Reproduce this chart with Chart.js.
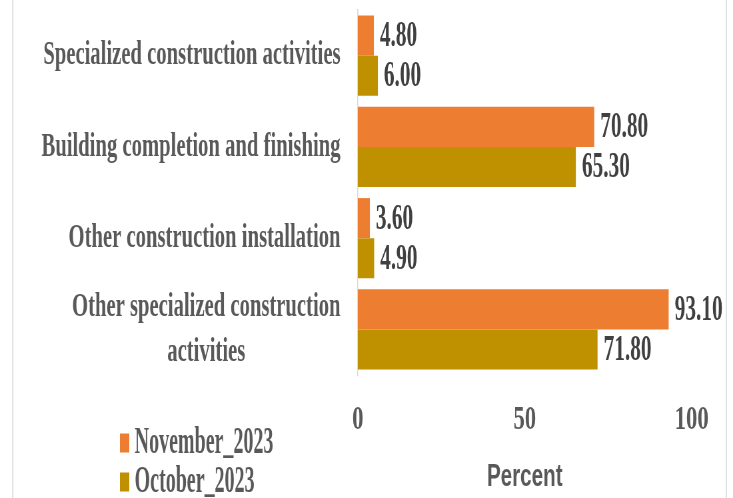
<!DOCTYPE html>
<html>
<head>
<meta charset="utf-8">
<script src="https://cdn.jsdelivr.net/npm/chart.js@4.4.1/dist/chart.umd.min.js"></script>
<style>
  html, body { margin: 0; padding: 0; background: #fff; overflow: hidden; }
  #wrap { width: 733px; height: 498px; overflow: hidden; position: relative; }
  /* the original is a horizontally squeezed picture, so squeeze the whole canvas */
  #chart { position: absolute; left: 0; top: 0; transform: scaleX(0.66636); transform-origin: 0 0; }
</style>
</head>
<body>
<div id="wrap"><canvas id="chart" width="1100" height="498"></canvas></div>
<script>
const categories = [
  "Specialized construction activities",
  "Building completion and finishing",
  "Other construction installation",
  ["Other specialized construction", "activities"]
];
const seriesNames = ["November_2023", "October_2023"];
const november = [4.8, 70.8, 3.6, 93.1];
const october = [6.0, 65.3, 4.9, 71.8];
const xTicks = [0, 50, 100];
const axisTitle = "Percent";

const colors = ["#ED7D31", "#BF9000"];
const SERIF = "'Liberation Serif', 'Times New Roman', serif";
const SANS = "'Liberation Sans', Arial, sans-serif";

function tallText(ctx, text, x, y, sy) {
  ctx.save();
  ctx.translate(x, y);
  ctx.scale(1, sy);
  ctx.fillText(text, 0, 0);
  ctx.restore();
}

// light frame of the chart box
const framePlugin = {
  id: "frame",
  beforeDraw(chart) {
    const { ctx, height } = chart;
    ctx.save();
    ctx.strokeStyle = "#D9D9D9";
    ctx.lineWidth = 1.5;
    ctx.beginPath();
    ctx.moveTo(19, 0);
    ctx.lineTo(19, height);
    ctx.moveTo(1090, 0);
    ctx.lineTo(1090, height);
    ctx.stroke();
    ctx.restore();
  }
};

// category names, right aligned, wrapped lines centred on each other
const categoryPlugin = {
  id: "categoryLabels",
  afterDraw(chart) {
    const { ctx } = chart;
    const yScale = chart.scales.y;
    const right = 511;
    const lineGap = 45;

    ctx.save();
    ctx.font = "bold 31px " + SERIF;
    ctx.fillStyle = "#595959";
    ctx.textBaseline = "middle";
    ctx.textAlign = "center";

    categories.forEach((label, i) => {
      const lines = Array.isArray(label) ? label : [label];
      const w = Math.max(...lines.map(l => ctx.measureText(l).width));
      const cx = right - w / 2;
      const cy = yScale.getPixelForTick(i);
      const y0 = cy - (lines.length - 1) * lineGap / 2;
      lines.forEach((l, k) => tallText(ctx, l, cx, y0 + k * lineGap, 1.08));
    });
    ctx.restore();
  }
};

// values at the end of each bar
const valuePlugin = {
  id: "valueLabels",
  afterDatasetsDraw(chart) {
    const { ctx } = chart;
    ctx.save();
    ctx.font = "bold 32px " + SERIF;
    ctx.fillStyle = "#404040";
    ctx.textAlign = "left";
    ctx.textBaseline = "middle";
    chart.data.datasets.forEach((ds, i) => {
      chart.getDatasetMeta(i).data.forEach((bar, j) => {
        tallText(ctx, ds.data[j].toFixed(2), bar.x + 9, bar.y + 1, 1.15);
      });
    });
    ctx.restore();
  }
};

// legend stacked in the lower left corner
const legendPlugin = {
  id: "stackedLegend",
  afterDraw(chart) {
    const { ctx } = chart;
    const rows = [443, 482];
    ctx.save();
    ctx.font = "bold 30px " + SERIF;
    ctx.textAlign = "left";
    ctx.textBaseline = "middle";
    chart.data.datasets.forEach((ds, i) => {
      ctx.fillStyle = ds.backgroundColor;
      ctx.fillRect(180, rows[i] - 9.5, 14, 19);
      ctx.fillStyle = "#595959";
      tallText(ctx, ds.label, 202, rows[i], 1.25);
    });
    ctx.restore();
  }
};

new Chart(document.getElementById("chart"), {
  type: "bar",
  data: {
    labels: categories,
    datasets: [
      { label: seriesNames[0], data: november, backgroundColor: colors[0] },
      { label: seriesNames[1], data: october, backgroundColor: colors[1] }
    ]
  },
  options: {
    indexAxis: "y",
    responsive: false,
    devicePixelRatio: 1,
    animation: false,
    layout: { padding: { top: 10, right: 62, left: 0, bottom: 0 } },
    datasets: {
      bar: { barPercentage: 1, categoryPercentage: 0.877, borderWidth: 0 }
    },
    scales: {
      y: {
        ticks: { display: false },
        grid: { display: false },
        border: { display: true, color: "#D9D9D9", width: 1.5 },
        afterFit(scale) { scale.width = 537; }
      },
      x: {
        min: 0,
        max: 100,
        afterBuildTicks(scale) { scale.ticks = xTicks.map(v => ({ value: v })); },
        afterFit(scale) { scale.height = 123; },
        grid: { display: false, drawTicks: false },
        border: { display: false },
        ticks: {
          padding: 25,
          color: "#595959",
          font: { family: SERIF, size: 34, weight: "bold" }
        },
        title: {
          display: true,
          text: axisTitle,
          color: "#595959",
          padding: { top: 3, bottom: 2 },
          font: { family: SANS, size: 31, weight: "bold" }
        }
      }
    },
    plugins: {
      legend: { display: false },
      tooltip: { enabled: false }
    }
  },
  plugins: [framePlugin, categoryPlugin, valuePlugin, legendPlugin]
});
</script>
</body>
</html>
